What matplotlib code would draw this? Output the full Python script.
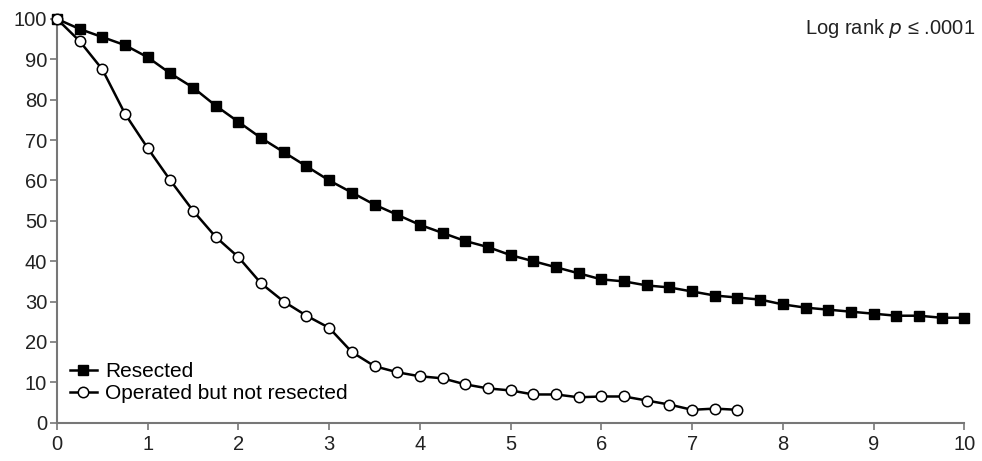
import matplotlib
matplotlib.use("Agg")
import matplotlib.pyplot as plt

# survival (%) every 3 months
years_resected = [i * 0.25 for i in range(41)]
resected = [100, 97.5, 95.5, 93.5, 90.5, 86.5, 83, 78.5, 74.5, 70.5,
            67, 63.5, 60, 57, 54, 51.5, 49, 47, 45, 43.5,
            41.5, 40, 38.5, 37, 35.5, 35, 34, 33.5, 32.5, 31.5,
            31, 30.5, 29.3, 28.5, 28, 27.5, 27, 26.5, 26.5, 26, 26]

years_not_resected = [i * 0.25 for i in range(31)]
not_resected = [100, 94.5, 87.5, 76.5, 68, 60, 52.5, 46, 41, 34.5,
                30, 26.5, 23.5, 17.5, 14, 12.5, 11.5, 11, 9.5, 8.5,
                8, 7, 7, 6.3, 6.5, 6.5, 5.5, 4.5, 3.2, 3.5, 3.2]

x_ticks = list(range(11))
y_ticks = list(range(0, 101, 10))

plt.rcParams["font.family"] = ["Liberation Sans", "DejaVu Sans"]

fig = plt.figure(figsize=(9.82, 4.61), dpi=100)
ax = fig.add_axes([0.058, 0.083, 0.924, 0.876])

ax.plot(years_resected, resected, color="black", lw=1.8, marker="s",
        ms=7.5, mfc="black", mec="black", label="Resected", clip_on=False, zorder=3)
ax.plot(years_not_resected, not_resected, color="black", lw=1.8, marker="o",
        ms=7.5, mfc="white", mec="black", mew=1.1,
        label="Operated but not resected", clip_on=False, zorder=4)

ax.set_xlim(0, 10)
ax.set_ylim(0, 100)
ax.set_xticks(x_ticks)
ax.set_yticks(y_ticks)
ax.tick_params(labelsize=14.5, colors="#222222", length=5, width=1.2, pad=2)
ax.tick_params(axis="x", pad=4)
for s in ["top", "right"]:
    ax.spines[s].set_visible(False)
for s in ["left", "bottom"]:
    ax.spines[s].set_color("#777777")
    ax.spines[s].set_linewidth(1.5)
ax.tick_params(color="#777777")

ax.text(1.012, 1.005, "Log rank $\\it{p}$ ≤ .0001", transform=ax.transAxes,
        ha="right", va="top", fontsize=14.5, color="#222222")

ax.legend(loc="lower left", bbox_to_anchor=(0.005, 0.028), frameon=False,
          fontsize=15, handlelength=1.3, handletextpad=0.4,
          labelspacing=0.15, borderaxespad=0)

fig.savefig("out.png", dpi=100)
